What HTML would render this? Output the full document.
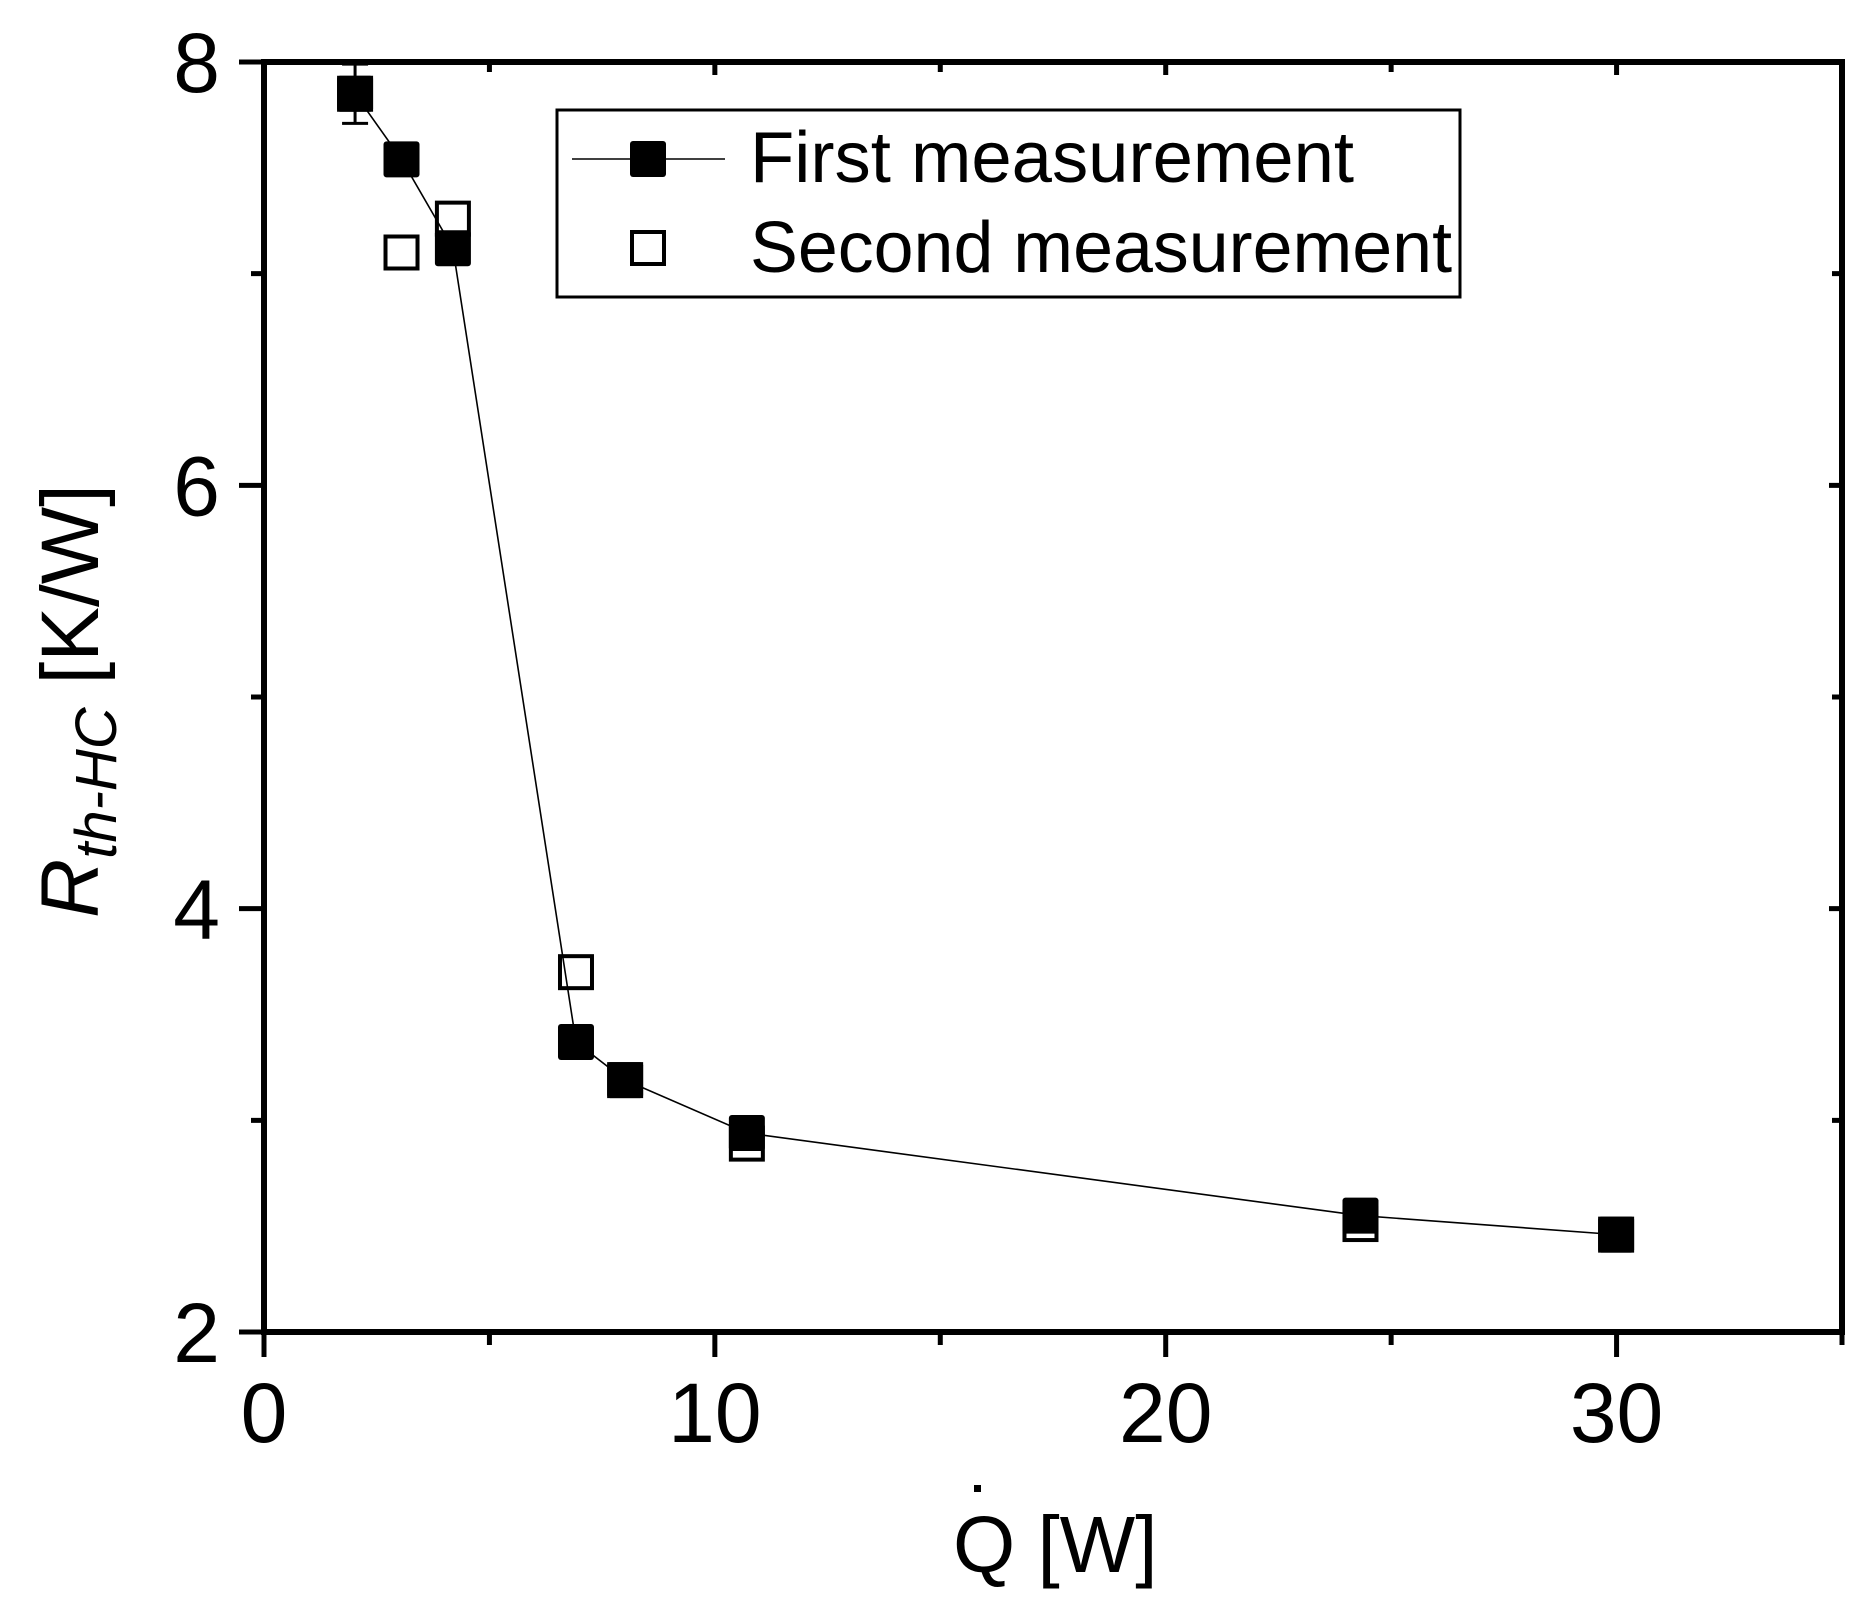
<!DOCTYPE html>
<html><head><meta charset="utf-8"><style>
html,body{margin:0;padding:0;background:#fff;}
svg{display:block;font-family:"Liberation Sans",Arial,sans-serif;}
</style></head><body>
<svg id="chart" width="1875" height="1617" viewBox="0 0 1875 1617">
<g id="marks"></g>
<g id="axes"></g>
<g>
 <rect x="557" y="110" width="903" height="187" fill="none" stroke="#000" stroke-width="3"/>
 <line x1="572" y1="159" x2="725" y2="159" stroke="#000" stroke-width="1.6"/>
 <rect x="630" y="141" width="36" height="36" rx="3" fill="#000"/>
 <text x="750" y="182" font-size="72" textLength="604" lengthAdjust="spacingAndGlyphs">First measurement</text>
 <rect x="632" y="232" width="32" height="32" fill="#fff" stroke="#000" stroke-width="4"/>
 <text x="750" y="272" font-size="72" textLength="702" lengthAdjust="spacingAndGlyphs">Second measurement</text>
</g>
<text transform="translate(98,918) rotate(-90)" font-size="82"><tspan font-style="italic">R</tspan><tspan font-style="italic" font-size="58" dy="18">th-HC</tspan><tspan dy="-18"> [K/W]</tspan></text>
<text x="953" y="1572" font-size="80">Q [W]</text>
<rect x="974" y="1485" width="7" height="7" fill="#000"/>
</svg>
<script>
const xFirst=[2.02,3.05,4.19,6.92,8.01,10.71,24.32,29.99];
const yFirst=[7.85,7.54,7.12,3.37,3.19,2.94,2.55,2.46];
const errFirst=[0.14,0.04,0.04,0.03,0.03,0.05,0.03,0.02];
const xSecond=[2.02,3.05,4.19,6.92,8.01,10.71,24.32,29.99];
const ySecond=[7.85,7.10,7.26,3.70,3.19,2.89,2.51,2.46];
const errSecond=[0.03,0.05,0.06,0.05,0.03,0.05,0.03,0.02];
const xTicks=[0,10,20,30];
const yTicks=[2,4,6,8];
const X0=264,X1=1842,Y0=1332,Y1=62,xmax=35,ymin=2,ymax=8;
const sx=v=>X0+(v/xmax)*(X1-X0);
const sy=v=>Y0-(v-ymin)/(ymax-ymin)*(Y0-Y1);
const NS='http://www.w3.org/2000/svg';
function mk(tag,attrs,parent){const e=document.createElementNS(NS,tag);for(const k in attrs)e.setAttribute(k,attrs[k]);parent.appendChild(e);return e;}
const marks=document.getElementById('marks'),axes=document.getElementById('axes');
const S=36;
// second series (drawn beneath)
for(let i=0;i<xSecond.length;i++){
 const cx=sx(xSecond[i]),cy=sy(ySecond[i]);
 const eb=mk('path',{d:`M${cx-13},${sy(ySecond[i]+errSecond[i])}h26M${cx},${sy(ySecond[i]+errSecond[i])}V${sy(ySecond[i]-errSecond[i])}M${cx-13},${sy(ySecond[i]-errSecond[i])}h26`,stroke:'#000','stroke-width':3,fill:'none'},marks);
 
 
 const r=mk('rect',{x:cx-16,y:cy-16,width:32,height:32,fill:'#fff',stroke:'#000','stroke-width':4},marks);
 
 
}
// first series line
const ln=mk('polyline',{points:xFirst.map((x,i)=>sx(x)+','+sy(yFirst[i])).join(' '),fill:'none',stroke:'#000','stroke-width':1.6},marks);


for(let i=0;i<xFirst.length;i++){
 const cx=sx(xFirst[i]),cy=sy(yFirst[i]);
 const eb=mk('path',{d:`M${cx-13},${sy(yFirst[i]+errFirst[i])}h26M${cx},${sy(yFirst[i]+errFirst[i])}V${sy(yFirst[i]-errFirst[i])}M${cx-13},${sy(yFirst[i]-errFirst[i])}h26`,stroke:'#000','stroke-width':3,fill:'none'},marks);
 
 
 const r=mk('rect',{x:cx-S/2,y:cy-S/2,width:S,height:S,rx:3,fill:'#000'},marks);
 
 
}
// axes frame
const fr=mk('rect',{x:X0,y:Y1,width:X1-X0,height:Y0-Y1,fill:'none',stroke:'#000','stroke-width':6},axes);


let d='';
for(let v=0;v<=35;v+=5){const x=sx(v);const major=v%10===0;d+=`M${x},${Y0}v${major?25:13}M${x},${Y1}v${major?13:10}`;}
for(let v=2;v<=8;v+=1){const y=sy(v);const major=v%2===0;d+=`M${X0},${y}h${major?-25:-13}M${X1},${y}h${major?-13:-10}`;}
const tk=mk('path',{d:d,stroke:'#000','stroke-width':5,fill:'none'},axes);


xTicks.forEach(v=>{const t=mk('text',{x:sx(v),y:1442,'font-size':84,'text-anchor':'middle'},axes);t.textContent=v;
 
 });
yTicks.forEach(v=>{const t=mk('text',{x:220,y:sy(v)+30,'font-size':84,'text-anchor':'end'},axes);t.textContent=v;
 
 });
</script>
</body></html>
